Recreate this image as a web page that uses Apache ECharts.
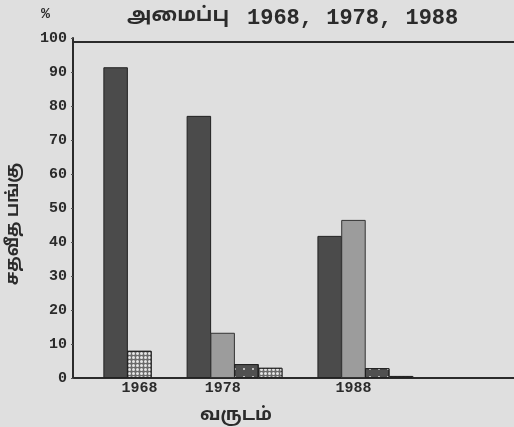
<!DOCTYPE html>
<html><head><meta charset="utf-8">
<script src="https://cdn.jsdelivr.net/npm/echarts@6/dist/echarts.min.js"></script>
<style>html,body{margin:0;padding:0;background:#dfdfdf}#c{width:514px;height:427px}</style>
</head><body><div id="c"></div>
<script>
// ---- data ----
const years = ['1968', '1978', '1988'];
const darkValues = [91.4, 77.1, 41.8];
const lightValues = [null, 13.3, 46.5];
const dottedValues = [null, 4.1, 2.9];
const checkValues = [8, 3, 0.6];
const titleWord = 'அமைப்பு';
const titleYears = '1968, 1978, 1988';
const yName = 'சதவீத பங்கு';
const xName = 'வருடம்';

// ---- slot layout built from data ----
const allSeries = [darkValues, lightValues, dottedValues, checkValues];
const N = 37;
const slotData = allSeries.map(() => new Array(N).fill(null));
const cats = new Array(N).fill('');
let idx = 3;
years.forEach((y, yi) => {
  const present = [];
  allSeries.forEach((arr, si) => { if (arr[yi] != null) present.push([si, arr[yi]]); });
  present.forEach(([si, v], k) => {
    slotData[si][idx] = v;
    if (k === 1) cats[idx] = y;
    idx += 2;
  });
  idx += 3;
});

const mono = '"Liberation Mono", "DejaVu Sans Mono", monospace';
const tamil = '"Noto Sans Tamil", "Noto Sans", sans-serif';
const ink = '#2b2b2b';

const styles = [
  { color: '#4b4b4b', borderColor: '#222', borderWidth: 1 },
  { color: '#9c9c9c', borderColor: '#333', borderWidth: 1 },
  { color: '#505050', borderColor: '#222', borderWidth: 1,
    decal: { symbol: 'circle', color: 'rgba(235,235,235,0.9)', symbolSize: 1, dashArrayX: [2, 7], dashArrayY: [2, 6] } },
  { color: '#6a6a6a', borderColor: '#222', borderWidth: 1,
    decal: { symbol: 'circle', color: 'rgba(235,235,235,0.95)', symbolSize: 1, dashArrayX: [3, 1], dashArrayY: [3, 1] } }
];

const chart = echarts.init(document.getElementById('c'));
chart.setOption({
  backgroundColor: '#dfdfdf',
  animation: false,
  grid: { left: 74, right: -2, top: 38, bottom: 49 },
  xAxis: [
    { type: 'category', data: cats, position: 'bottom',
      axisLine: { show: true, lineStyle: { color: ink, width: 2 } },
      axisTick: { show: false },
      axisLabel: { interval: 0, margin: 3, fontFamily: mono, fontWeight: 'bold', fontSize: 15, color: ink } },
    { type: 'category', data: cats, position: 'top', offset: -4,
      axisLine: { show: true, lineStyle: { color: ink, width: 2 } },
      axisTick: { show: false }, axisLabel: { show: false } }
  ],
  yAxis: {
    type: 'value', min: 0, max: 100, interval: 10, offset: 1,
    axisLine: { show: true, lineStyle: { color: ink, width: 2 } },
    axisTick: { show: true, length: 2, lineStyle: { color: '#555' } },
    splitLine: { show: false },
    axisLabel: { margin: 6, fontFamily: mono, fontWeight: 'bold', fontSize: 15, color: ink }
  },
  series: slotData.map((d, i) => ({
    type: 'bar', stack: 'all', data: d, barWidth: 24.5,
    itemStyle: styles[i]
  })),
  graphic: [
    { type: 'text', left: 41, top: 7, style: { text: '%', font: 'bold 15px ' + mono, fill: ink } },
    { type: 'text', x: 127, y: 17, style: { text: titleWord, font: 'bold 20px ' + tamil, fill: ink, verticalAlign: 'middle' } },
    { type: 'text', x: 247, y: 18, style: { text: titleYears, font: 'bold 22px ' + mono, fill: ink, verticalAlign: 'middle' } },
    { type: 'text', x: 15, y: 224, rotation: Math.PI / 2,
      style: { text: yName, font: 'bold 17px ' + tamil, fill: ink, align: 'center', verticalAlign: 'middle' } },
    { type: 'text', x: 236, y: 416,
      style: { text: xName, font: 'bold 18px ' + tamil, fill: ink, align: 'center', verticalAlign: 'middle' } }
  ]
});
</script></body></html>
